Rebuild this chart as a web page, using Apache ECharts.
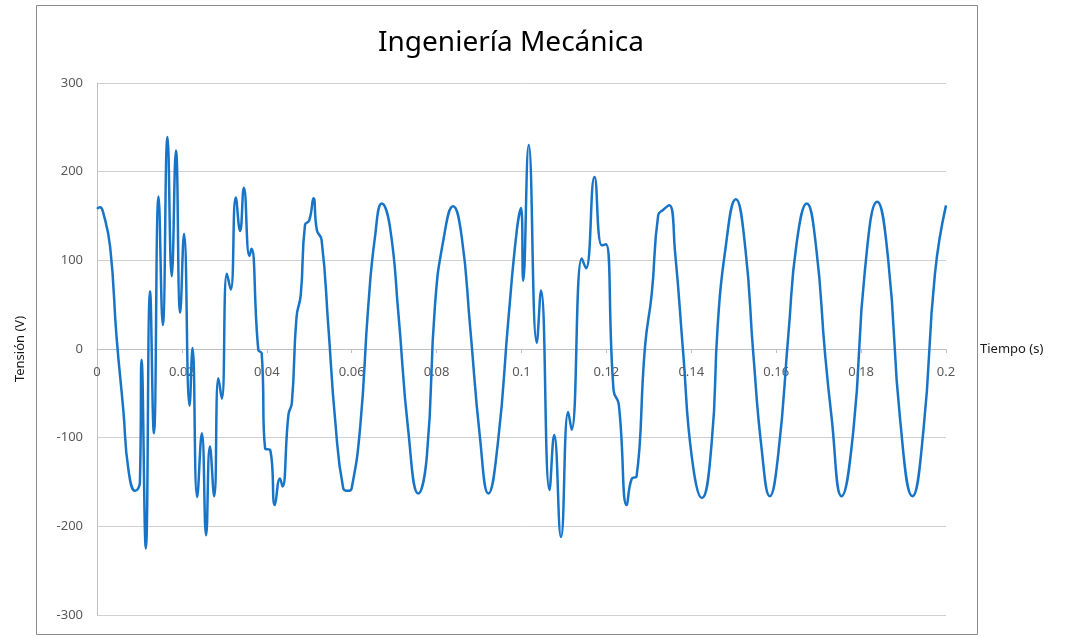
<!DOCTYPE html>
<html>
<head>
<meta charset="utf-8">
<script src="https://cdn.jsdelivr.net/npm/echarts@6/dist/echarts.min.js"></script>
<style>
  html, body { margin: 0; padding: 0; background: #fff; }
  #chart { width: 1068px; height: 637px; }
</style>
</head>
<body>
<div id="chart"></div>
<script>
// tiempo (s) y tension (V)
var tiempo = [
  0, 0.0007, 0.0014, 0.0031, 0.0046, 0.0062, 0.0074, 0.0090, 0.0101,
  0.0105, 0.0115, 0.0125, 0.0134, 0.0145, 0.0155, 0.0166, 0.0176, 0.0186,
  0.0196, 0.0205, 0.0218, 0.0225, 0.0236, 0.0247, 0.0257, 0.0266, 0.0276,
  0.0286, 0.0294, 0.0306, 0.0315, 0.0327, 0.0337, 0.0346, 0.0359, 0.0364,
  0.0380, 0.0388, 0.0396, 0.0408, 0.0419, 0.0431, 0.0437, 0.0451, 0.0459,
  0.0470, 0.0480, 0.0490, 0.0500, 0.0510, 0.0518, 0.0529, 0.0545, 0.0561,
  0.0580, 0.0592, 0.0600, 0.0620, 0.0639, 0.0655, 0.0671, 0.0690, 0.0710,
  0.0733, 0.0757, 0.0777, 0.0796, 0.0816, 0.0839, 0.0859, 0.0879, 0.0902,
  0.0922, 0.0945, 0.0969, 0.0989, 0.0999, 0.1004, 0.1017, 0.1036, 0.1046,
  0.1066, 0.1077, 0.1093, 0.1110, 0.1118, 0.1142, 0.1152, 0.1172, 0.1189,
  0.1199, 0.1217, 0.1229, 0.1248, 0.1260, 0.1271, 0.1291, 0.1307, 0.1322,
  0.1334, 0.1348, 0.1362, 0.1381, 0.1401, 0.1425, 0.1448, 0.1462, 0.1479,
  0.1505, 0.1527, 0.1546, 0.1566, 0.1585, 0.1605, 0.1629, 0.1648, 0.1672,
  0.1694, 0.1715, 0.1730, 0.1754, 0.1782, 0.1809, 0.1838, 0.1864, 0.1892,
  0.1921, 0.1947, 0.1974, 0.2000
];
var tension = [
  158, 160, 155, 115, 14, -69, -136, -160, -151,
  -12, -225, 65, -95, 172, 27, 239, 82, 224,
  41, 130, -64, 1, -167, -95, -210, -110, -166,
  -33, -56, 85, 67, 171, 133, 182, 105, 113,
  -1, -5, -112, -114, -176, -146, -155, -74, -61,
  36, 61, 140, 145, 170, 134, 123, 25, -80,
  -157, -160, -157, -88, 48, 127, 164, 138, 40,
  -91, -163, -121, 48, 123, 161, 127, 25, -99,
  -163, -103, 33, 134, 159, 77, 230, 7, 66,
  -159, -97, -212, -71, -91, 102, 91, 194, 117,
  118, -47, -62, -176, -146, -144, 3, 63, 151,
  157, 162, 108, -5, -121, -168, -106, 25, 108,
  169, 115, -5, -114, -166, -118, 18, 119, 164,
  115, -5, -75, -166, -91, 89, 166, 100, -80,
  -166, -91, 85, 162
];
var xTicks = [0, 0.02, 0.04, 0.06, 0.08, 0.1, 0.12, 0.14, 0.16, 0.18, 0.2];
var yTicks = [-300, -200, -100, 0, 100, 200, 300];

var puntos = tiempo.map(function (t, i) { return [t, tension[i]]; });

var chart = echarts.init(document.getElementById('chart'), null, { renderer: 'canvas' });
chart.setOption({
  animation: false,
  backgroundColor: '#fff',
  textStyle: { fontFamily: 'Noto Sans' },
  title: {
    text: 'Ingeniería Mecánica',
    left: 506, top: 24, textAlign: 'center',
    textStyle: { fontFamily: 'Noto Sans', fontSize: 28, fontWeight: 'normal', color: '#000' }
  },
  graphic: [{
    type: 'rect',
    shape: { x: 36.5, y: 5.5, width: 941, height: 629 },
    style: { fill: null, stroke: '#8c8c8c', lineWidth: 1 },
    silent: true, z: -1
  }],
  grid: { left: 97, right: 122, top: 83, bottom: 22 },
  xAxis: {
    type: 'value',
    min: xTicks[0], max: xTicks[xTicks.length - 1], interval: 0.02,
    position: 'bottom', offset: -266,
    name: 'Tiempo (s)', nameLocation: 'end', nameGap: 34,
    nameTextStyle: { color: '#1a1a1a', fontSize: 13, verticalAlign: 'middle', padding: [12, 0, 0, 0] },
    axisLine: { onZero: false, lineStyle: { color: '#bfbfbf', width: 1 } },
    axisTick: { show: true, length: 4, lineStyle: { color: '#bfbfbf' } },
    axisLabel: { color: '#595959', fontSize: 13, margin: 17 },
    splitLine: { show: false }
  },
  yAxis: {
    type: 'value',
    min: yTicks[0], max: yTicks[yTicks.length - 1], interval: 100,
    name: 'Tensión (V)', nameLocation: 'middle', nameGap: 70, nameRotate: 90,
    nameTextStyle: { color: '#1a1a1a', fontSize: 13 },
    axisLine: { show: true, lineStyle: { color: '#bfbfbf', width: 1 } },
    axisTick: { show: false },
    axisLabel: { color: '#595959', fontSize: 13, margin: 14 },
    splitLine: { show: true, lineStyle: { color: '#d0d0d0', width: 1 } }
  },
  series: [{
    type: 'line',
    data: puntos,
    smooth: 0.5,
    showSymbol: false,
    lineStyle: { color: '#1874c6', width: 2.5 },
    itemStyle: { color: '#1874c6' }
  }]
});
</script>
</body>
</html>
